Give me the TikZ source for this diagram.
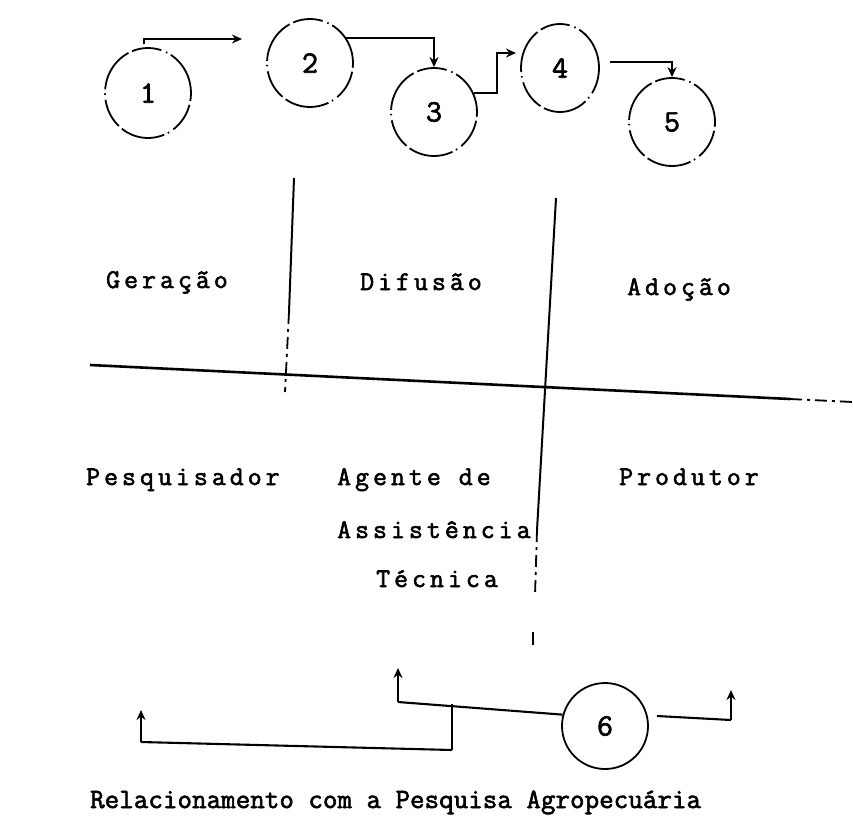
\documentclass[tikz,border=0pt]{standalone}
\usepackage{fontspec}
\usetikzlibrary{arrows.meta,shapes.geometric}
\newfontfamily\lblfam{lmmono12-regular.otf}[LetterSpace=15,FakeBold=2.2]
\newfontfamily\capfam{lmmono12-regular.otf}[LetterSpace=0.5,FakeBold=2.2]
\newfontfamily\digfam{lmmono12-regular.otf}[FakeBold=2.2]
\newcommand{\lblfont}{\lblfam\fontsize{27}{27}\selectfont}
\newcommand{\captionfont}{\capfam\fontsize{28}{28}\selectfont}
\newcommand{\digitfont}{\digfam\fontsize{31}{31}\selectfont}
\begin{document}
\begin{tikzpicture}[x=1pt,y=-1pt,
  stage/.style={ellipse,draw,line width=1.8pt,inner sep=0pt,minimum width=86pt,minimum height=88pt,
     dash pattern=on 45pt off 4pt on 1.5pt off 5pt on 30pt off 4pt,
     font=\digitfont},
  solidstage/.style={ellipse,draw,line width=1.8pt,inner sep=0pt,minimum width=86pt,minimum height=86pt,
     font=\digitfont},
  lbl/.style={inner sep=0pt,anchor=base west,font=\lblfont},
  captiontext/.style={inner sep=0pt,anchor=base west,font=\captionfont},
  conn/.style={line width=2.1pt},
  thinconn/.style={line width=1.4pt},
  arr/.style={conn,-{Stealth[length=10pt,width=9pt]}},
  divider/.style={line width=2pt},
  brokenline/.style={line width=1.8pt,dash pattern=on 12pt off 5pt on 3pt off 5pt}
]
\useasboundingbox (0,0) rectangle (853,822);

% stage circles
\node[stage] (c1) at (148,93) [minimum width=86pt,minimum height=90pt] {1};
\node[stage] (c2) at (310,63) {2};
\node[stage] (c3) at (434,112) {3};
\node[stage] (c4) at (560,68) [minimum width=78pt] {4};
\node[stage] (c5) at (672,122) {5};

% top connectors
\coordinate (s12) at (144,44);
\coordinate (e12) at (242,39);
\draw[arr] (s12) |- (e12);
\draw[arr] (c2.35) -| (c3.north);
\coordinate (bend34) at (497,53);
\coordinate (t4) at (516,53);
\draw[arr] (c3.25) -| (bend34) -- (t4);
\coordinate (s45) at (610,62);
\draw[arr] (s45) -| (c5.north);

% dividers
\coordinate (v1t) at (294,178);
\coordinate (v1m) at (289,312);
\coordinate (v1b) at (285,392);
\draw[divider] (v1t) -- (v1m);
\draw[brokenline] (v1m) -- (v1b);
\coordinate (v2t) at (556,198);
\coordinate (v2m) at (537,530);
\coordinate (v2b) at (535,595);
\coordinate (v2x1) at (533,632);
\coordinate (v2x2) at (533,645);
\draw[divider] (v2t) -- (v2m);
\draw[brokenline] (v2m) -- (v2b);
\draw[thinconn] (v2x1) -- (v2x2);
\coordinate (hl) at (90,365);
\coordinate (hm) at (790,399);
\coordinate (hr) at (853,402);
\draw[divider,line width=2.6pt] (hl) -- (hm);
\draw[brokenline] (hm) -- (hr);

% labels
\node[lbl] (ger) at (106,288) {Geração};
\node[lbl] (dif) at (360,290) {Difusão};
\node[lbl] (ado) at (627,295) {Adoção};
\node[lbl] (pes) at (86,485) {Pesquisador};
\node[lbl] (age) at (337,485) {Agente de};
\node[lbl] (ass) at (337,538) {Assistência};
\node[lbl] (tec) at (376,587) {Técnica};
\node[lbl] (pro) at (619,485) {Produtor};

% bottom
\node[solidstage] (c6) at (605,726) {6};
\coordinate (j) at (398,702);
\coordinate (ju) at (398,668);
\draw[conn] (c6.165) -- (j);
\draw[arr] (j) -- (ju);
\coordinate (jb) at (452,704);
\coordinate (jc) at (452,750);
\coordinate (ld) at (141,742);
\coordinate (lu) at (141,710);
\draw[thinconn] (jb) -- (jc);
\draw[conn] (jc) -- (ld);
\draw[arr] (ld) -- (lu);
\coordinate (rs) at (657,716);
\coordinate (rd) at (731,720);
\coordinate (ru) at (731,690);
\draw[conn] (rs) -- (rd);
\draw[arr] (rd) -- (ru);

\node[captiontext] (capt) at (90,808) {Relacionamento com a Pesquisa Agropecuária};
\end{tikzpicture}
\end{document}
